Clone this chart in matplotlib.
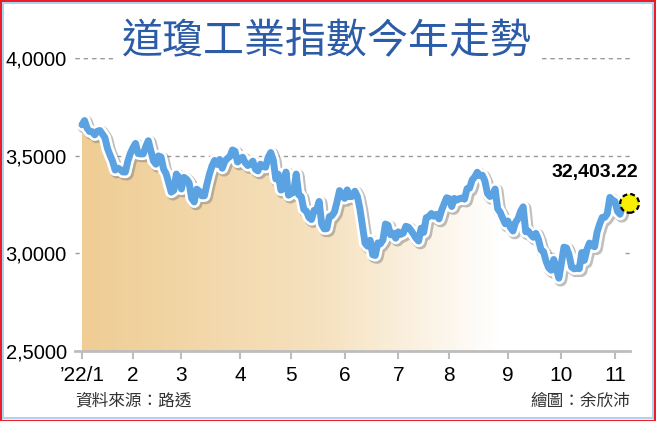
import numpy as np
import matplotlib
matplotlib.use("Agg")
import matplotlib.pyplot as plt
from matplotlib.patches import Rectangle
import matplotlib.patheffects as pe
import matplotlib.transforms as mtransforms
from matplotlib.colors import LinearSegmentedColormap

# ---- data: DJIA daily closes 2022 ----
jan = [36585, 36800, 36407, 36236, 36232, 36069, 36252, 36290, 36114, 35912,
       35368, 35029, 34715, 34265, 34365, 34298, 34168, 34161, 34725, 35132]
feb = [35405, 35629, 35111, 35090, 35091, 35463, 35768, 35242, 34738, 34566,
       34989, 34934, 34312, 34079, 33597, 33132, 33224, 34059, 33893]
mar = [33295, 33891, 33795, 33615, 32817, 32633, 33286, 33174, 32944, 32945,
       33544, 34063, 34481, 34755, 34553, 34807, 34359, 34708, 34861, 34956,
       35294, 35229, 34678]
apr = [34818, 34922, 34641, 34497, 34584, 34721, 34308, 34220, 34565, 34451,
       34412, 34911, 35161, 34793, 33811, 34049, 33240, 33302, 34161, 32977]
may = [33062, 33129, 34061, 32998, 32899, 32246, 32161, 31834, 31730, 32197,
       32223, 32655, 31490, 31253, 31262, 31880, 31929, 32120, 32637, 33213,
       32990]
jun = [32813, 33248, 32900, 32916, 33180, 32911, 32273, 31393, 30517, 30365,
       30669, 29927, 29889, 30530, 30483, 30677, 31501, 31438, 30947, 31029,
       30775]
jul = [31097, 30968, 31038, 31385, 31338, 31174, 30981, 30773, 30630, 31288,
       31073, 31827, 31875, 32037, 31899, 31990, 31762, 32198, 32530, 32845]
aug = [32798, 32396, 32813, 32727, 32803, 32833, 32774, 33310, 33337, 33761,
       33912, 34152, 33980, 33999, 33707, 33064, 32910, 32969, 33292, 32283,
       32099, 31791, 31510]
sep = [31656, 31318, 31145, 31581, 31775, 32152, 32381, 31105, 31135, 30962,
       30822, 31020, 30706, 30184, 30077, 29590, 29261, 29135, 29684, 29226,
       28726]
oct_ = [29491, 30316, 30274, 29927, 29297, 29203, 29239, 29211, 30039, 29635,
        30186, 30524, 30424, 30334, 31083, 31500, 31837, 31839, 32033, 32862,
        32733]
nov = [32653, 32148, 32001, 32403.22]

months = [jan, feb, mar, apr, may, jun, jul, aug, sep, oct_, nov]
month_labels = ["\u201922/1", "2", "3", "4", "5", "6", "7", "8", "9", "10", "11"]
y_ticks = [25000, 30000, 35000, 40000]
y_tick_labels = ["2,5000", "3,0000", "3,5000", "4,0000"]
last_label = "32,403.22"
title = "道瓊工業指數今年走勢"
source = "資料來源：路透"
credit = "繪圖：余欣沛"

closes = np.concatenate([np.array(m, dtype=float) for m in months])
x = np.arange(len(closes))
month_starts = np.cumsum([0] + [len(m) for m in months[:-1]])

# ---- figure ----
W, H = 656, 421
fig = plt.figure(figsize=(W / 100, H / 100), dpi=100)
fig.patch.set_facecolor("white")

ax = fig.add_axes([75 / W, 1 - 350.9 / H, (630 - 75) / W, (350.9 - 58.1) / H])
px_per_day = 2.55
ax.set_xlim(-7 / px_per_day, (630 - 82) / px_per_day)
ax.set_ylim(25000, 40000)
ax.set_facecolor("none")

# gradient fill under curve
cmap = LinearSegmentedColormap.from_list(
    "tan", [(0, "#efcd94"), (0.45, "#f6e2c0"), (0.77, "#ffffff"), (1, "#ffffff")])
grad = np.linspace(0, 1, 400).reshape(1, -1)
poly = ax.fill_between(x, closes, 25000, color="none", lw=0)
img = ax.imshow(grad, extent=[x[0], x[-1], 25000, 40000], aspect="auto",
                cmap=cmap, origin="lower", zorder=1)
img.set_clip_path(poly.get_paths()[0], transform=ax.transData)

# grid lines
for yt in y_ticks[1:]:
    ax.axhline(yt, color="#9a9a9a", lw=1.0, ls=(0, (3, 3)), zorder=0.5)

# main line
ax.plot(x, closes, color="#5aa2e2", lw=5.0, solid_joinstyle="round",
        solid_capstyle="round", zorder=3,
        path_effects=[pe.SimpleLineShadow(offset=(1.3, -1.3), shadow_color="#808080",
                                          alpha=0.5, linewidth=9.5),
                      pe.Stroke(linewidth=8.8, foreground="white"),
                      pe.Normal()])

# end marker (yellow dot with dashed black edge)
off = mtransforms.offset_copy(ax.transData, fig=fig, x=7, y=3, units="dots")
ax.scatter([x[-1]], [closes[-1]], s=13.5 ** 2, c="#f7ee00", edgecolors="black",
           linewidths=1.6, linestyles=(0, (2.2, 1.4)), transform=off, zorder=4,
           clip_on=False)
ax.annotate(last_label, (x[-1], closes[-1]), xytext=(-20, 24.5),
            textcoords="offset points", ha="center", va="center",
            fontsize=14, fontweight="bold", family=["Liberation Sans", "DejaVu Sans"],
            color="black", zorder=5)

# axes styling
for s in ["top", "right", "left"]:
    ax.spines[s].set_visible(False)
ax.spines["bottom"].set_color("#bdbdbd")
ax.spines["bottom"].set_linewidth(2)
ax.set_xticks(month_starts)
ax.set_xticklabels(month_labels)
ax.set_yticks(y_ticks)
ax.set_yticklabels(y_tick_labels)
ax.tick_params(axis="x", length=6, width=1.5, color="#bdbdbd", pad=5,
               labelsize=15)
ax.tick_params(axis="y", length=0, pad=6, labelsize=14.5)
for lab in ax.get_xticklabels() + ax.get_yticklabels():
    lab.set_family(["Liberation Sans Narrow", "Liberation Sans", "DejaVu Sans"])

# top gridline (interrupted by title)
ax.axhline(40000, color="#9a9a9a", lw=1.0, ls=(0, (3, 3)), zorder=0.5)

# title
fig.text(327 / W, 1 - 42 / H, title, ha="center", va="center", fontsize=29.5,
         color="#2c5ca8", fontweight="medium",
         family=["Noto Sans CJK TC", "DejaVu Sans"],
         bbox=dict(boxstyle="square,pad=0.15", fc="white", ec="none"), zorder=10)

# footer
fig.text(75 / W, 1 - 401 / H, source, ha="left", va="center", fontsize=12,
         color="#333333", family=["Noto Sans CJK TC", "DejaVu Sans"])
fig.text(630 / W, 1 - 401 / H, credit, ha="right", va="center", fontsize=12,
         color="#333333", family=["Noto Sans CJK TC", "DejaVu Sans"])

# frame
fig.patches.append(Rectangle((0.5 / W, 0.5 / H), (W - 1.5) / W, (H - 1.5) / H,
                             transform=fig.transFigure, fill=False, ec="#ee1c24",
                             lw=1.6, zorder=20))
fig.patches.append(Rectangle((3 / W, 3 / H), (W - 6) / W, (H - 6) / H,
                             transform=fig.transFigure, fill=False, ec="#a9d3f0",
                             lw=1.4, zorder=20))

fig.savefig("out.png", dpi=100, facecolor="white")
